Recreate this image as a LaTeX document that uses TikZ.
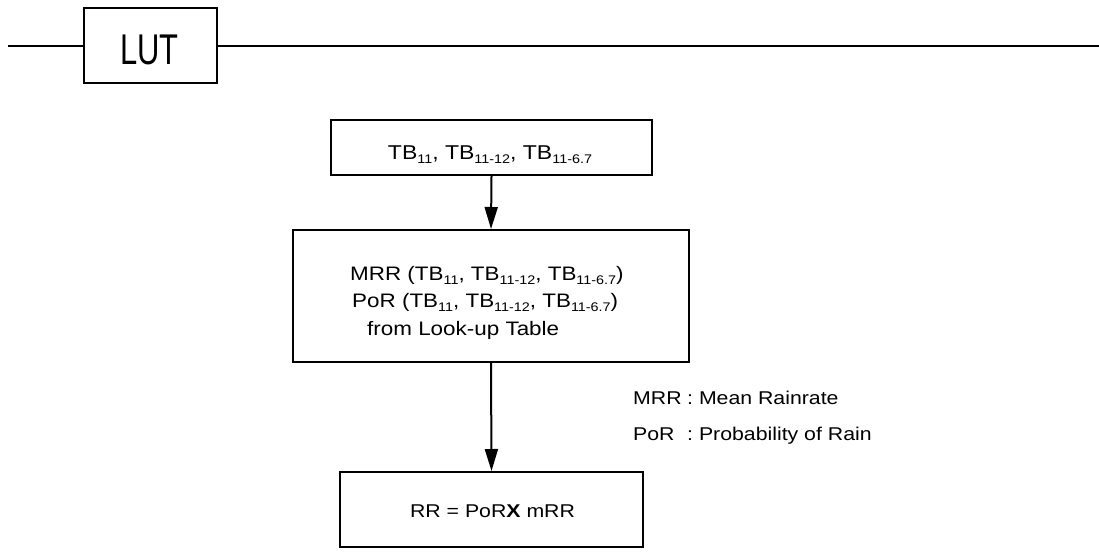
\documentclass[tikz,border=0pt]{standalone}
\usepackage{fontspec}
\setmainfont{Liberation Sans}[FakeStretch=1.15]
\newfontfamily\lutfont{Liberation Sans}[FakeStretch=0.72]
\usetikzlibrary{arrows.meta}
\newcommand{\lsub}[1]{\raisebox{-0.45ex}{\fontsize{12.5}{12.5}\selectfont #1}}
\begin{document}
\begin{tikzpicture}[x=1pt,y=-1pt,
  box/.style={draw,line width=2pt,inner sep=0pt},
  txt/.style={inner sep=0pt,font=\fontsize{19.5}{19.5}\selectfont},
  legend/.style={inner sep=0pt,font=\fontsize{18.5}{18.5}\selectfont},
  conn/.style={line width=2pt,-{Triangle[length=22pt,width=13pt]}},
  rule/.style={line width=2pt}]
\useasboundingbox (0,0) rectangle (1099,557);
\node[box,minimum width=133pt,minimum height=75pt] (lut) at (150.5,45.5) {};
\node[inner sep=0pt,anchor=base,font=\lutfont\fontsize{43}{43}\selectfont] (lutt) at (149.5,64) {LUT};
\coordinate (lstart) at (8,45.5);
\coordinate (lend) at (1099,45.5);
\draw[rule] (lstart) -- (lut.west);
\draw[rule] (lut.east) -- (lend);
\node[box,minimum width=321pt,minimum height=55pt] (b1) at (491.5,147.5) {};
\node[txt,anchor=base,font=\fontsize{20}{20}\selectfont] (t1) at (490,159)
  {TB\lsub{11}, TB\lsub{11-12}, TB\lsub{11-6.7}};
\node[box,minimum width=396pt,minimum height=132pt] (b2) at (491,296) {};
\node[txt,anchor=base west] (t2a) at (350,280) {MRR (TB\lsub{11}, TB\lsub{11-12}, TB\lsub{11-6.7})};
\node[txt,anchor=base west] (t2b) at (352,307) {PoR (TB\lsub{11}, TB\lsub{11-12}, TB\lsub{11-6.7})};
\node[txt,anchor=base west] (t2c) at (367,335) {from Look-up Table};
\node[box,minimum width=303pt,minimum height=75pt] (b3) at (491.5,509.5) {};
\node[txt,anchor=base,font=\fontsize{18.5}{18.5}\selectfont] (t3) at (492.5,517) {RR = PoR\textbf{X} mRR};
\draw[conn] (b1.south) -- (b2.north);
\draw[conn] (b2.south) -- (b3.north);
\node[legend,anchor=base west] (leg1) at (633,404) {\makebox[54pt][l]{MRR}:\ Mean Rainrate};
\node[legend,anchor=base west] (leg2) at (633,440) {\makebox[54pt][l]{PoR}:\ Probability of Rain};
\end{tikzpicture}
\end{document}
